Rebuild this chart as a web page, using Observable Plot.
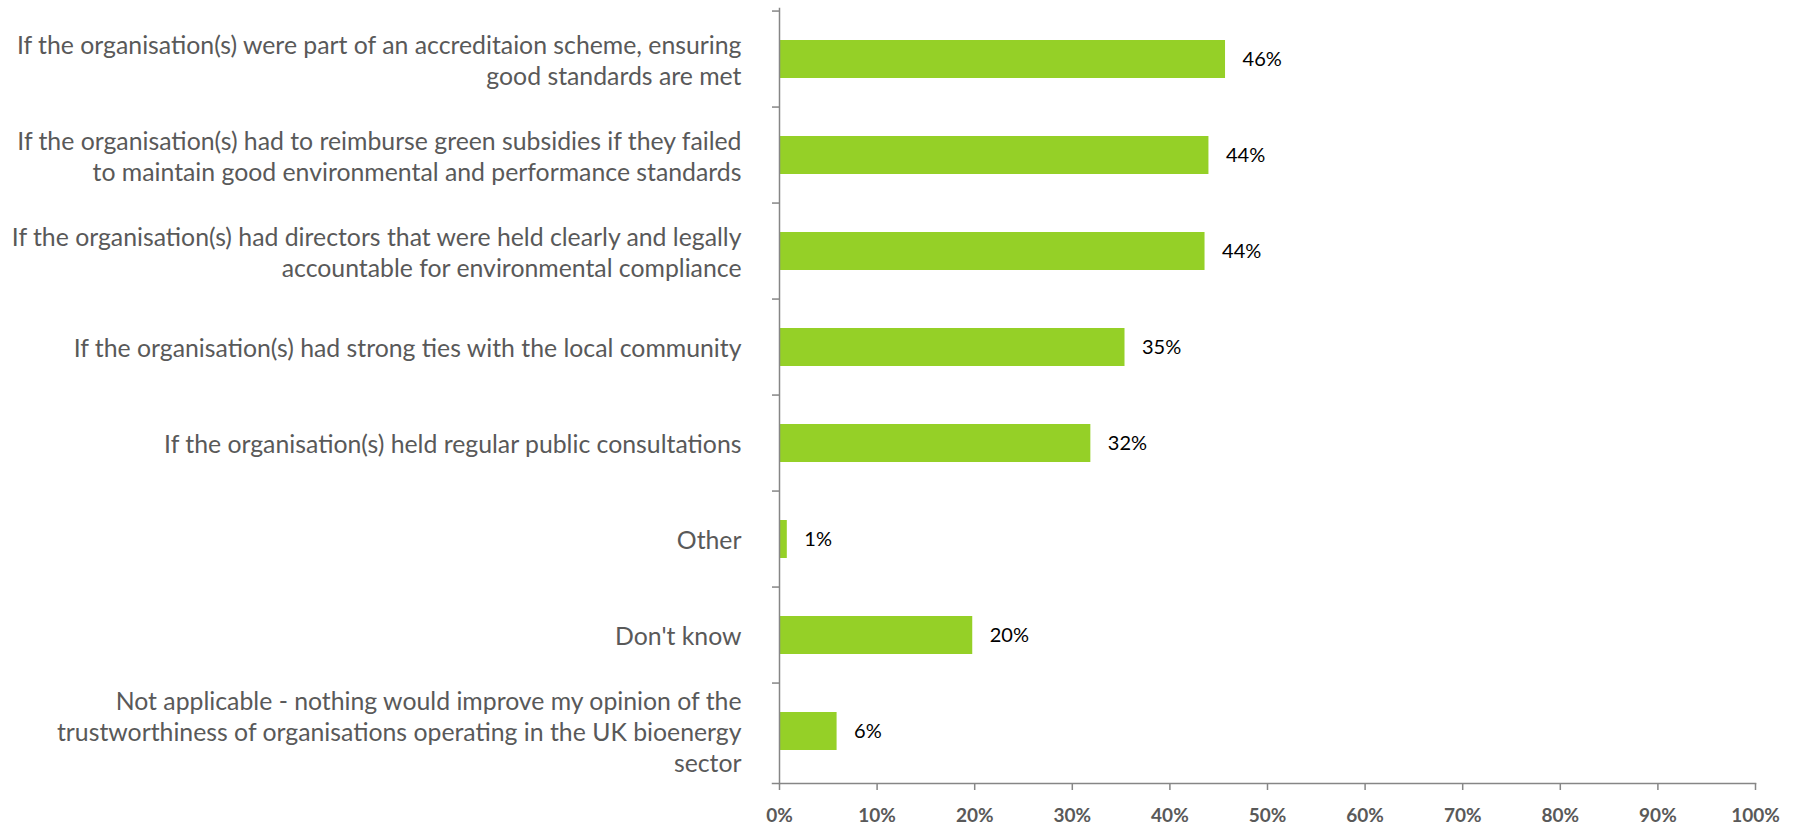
<!DOCTYPE html>
<html>
<head>
<meta charset="utf-8">
<script src="https://cdn.jsdelivr.net/npm/d3@7"></script>
<script src="https://cdn.jsdelivr.net/npm/@observablehq/plot@0.6"></script>
<style>
  html, body { margin: 0; padding: 0; background: #fff; }
  #chart svg { display: block; }
</style>
</head>
<body>
<div id="chart"></div>
<script>
const categories = [
  "If the organisation(s) were part of an accreditaion scheme, ensuring\ngood standards are met",
  "If the organisation(s) had to reimburse green subsidies if they failed\nto maintain good environmental and performance standards",
  "If the organisation(s) had directors that were held clearly and legally\naccountable for environmental compliance",
  "If the organisation(s) had strong ties with the local community",
  "If the organisation(s) held regular public consultations",
  "Other",
  "Don't know",
  "Not applicable - nothing would improve my opinion of the\ntrustworthiness of organisations operating in the UK bioenergy\nsector"
];
const values = [45.7, 44.0, 43.6, 35.4, 31.9, 0.8, 19.8, 5.9];
const valueLabels = ["46%", "44%", "44%", "35%", "32%", "1%", "20%", "6%"];
const xTicks = [0, 10, 20, 30, 40, 50, 60, 70, 80, 90, 100];

const data = categories.map((c, i) => ({category: c, value: values[i], label: valueLabels[i]}));

const W = 1802, H = 828;
const mTop = 8, mBottom = 45, mLeft = 779, mRight = 47;
const step = (H - mTop - mBottom) / categories.length;
const axisColor = "#868686";

const chart = Plot.plot({
  width: W,
  height: H,
  marginTop: mTop,
  marginBottom: mBottom,
  marginLeft: mLeft,
  marginRight: mRight,
  style: {fontFamily: "Lato, 'Open Sans', sans-serif", background: "#fff"},
  x: {domain: [0, 100], label: null},
  y: {domain: categories, paddingInner: 0.6, paddingOuter: 0.3, label: null},
  marks: [
    Plot.barX(data, {y: "category", x: "value", fill: "#95d027"}),
    Plot.text(data, {y: "category", x: "value", text: "label", dx: 17, textAnchor: "start", fill: "#000", fontSize: 20}),
    Plot.axisY({tickSize: 0, tickPadding: 38, fill: "#595959", fontSize: 24.8, lineHeight: 1.25, label: null}),
    Plot.axisY({tickSize: 7, tickFormat: () => "", dy: -step / 2, stroke: axisColor, strokeWidth: 1.5, label: null}),
    Plot.axisX({ticks: xTicks, tickFormat: d => d + "%", tickSize: 7, tickPadding: 18, stroke: axisColor, strokeWidth: 1.5, fill: "#595959", fontSize: 19, fontWeight: "bold", label: null}),
    Plot.frame({anchor: "left", stroke: axisColor, strokeWidth: 1.5}),
    Plot.frame({anchor: "bottom", stroke: axisColor, strokeWidth: 1.5, insetLeft: -7})
  ]
});
document.getElementById("chart").appendChild(chart);
</script>
</body>
</html>
